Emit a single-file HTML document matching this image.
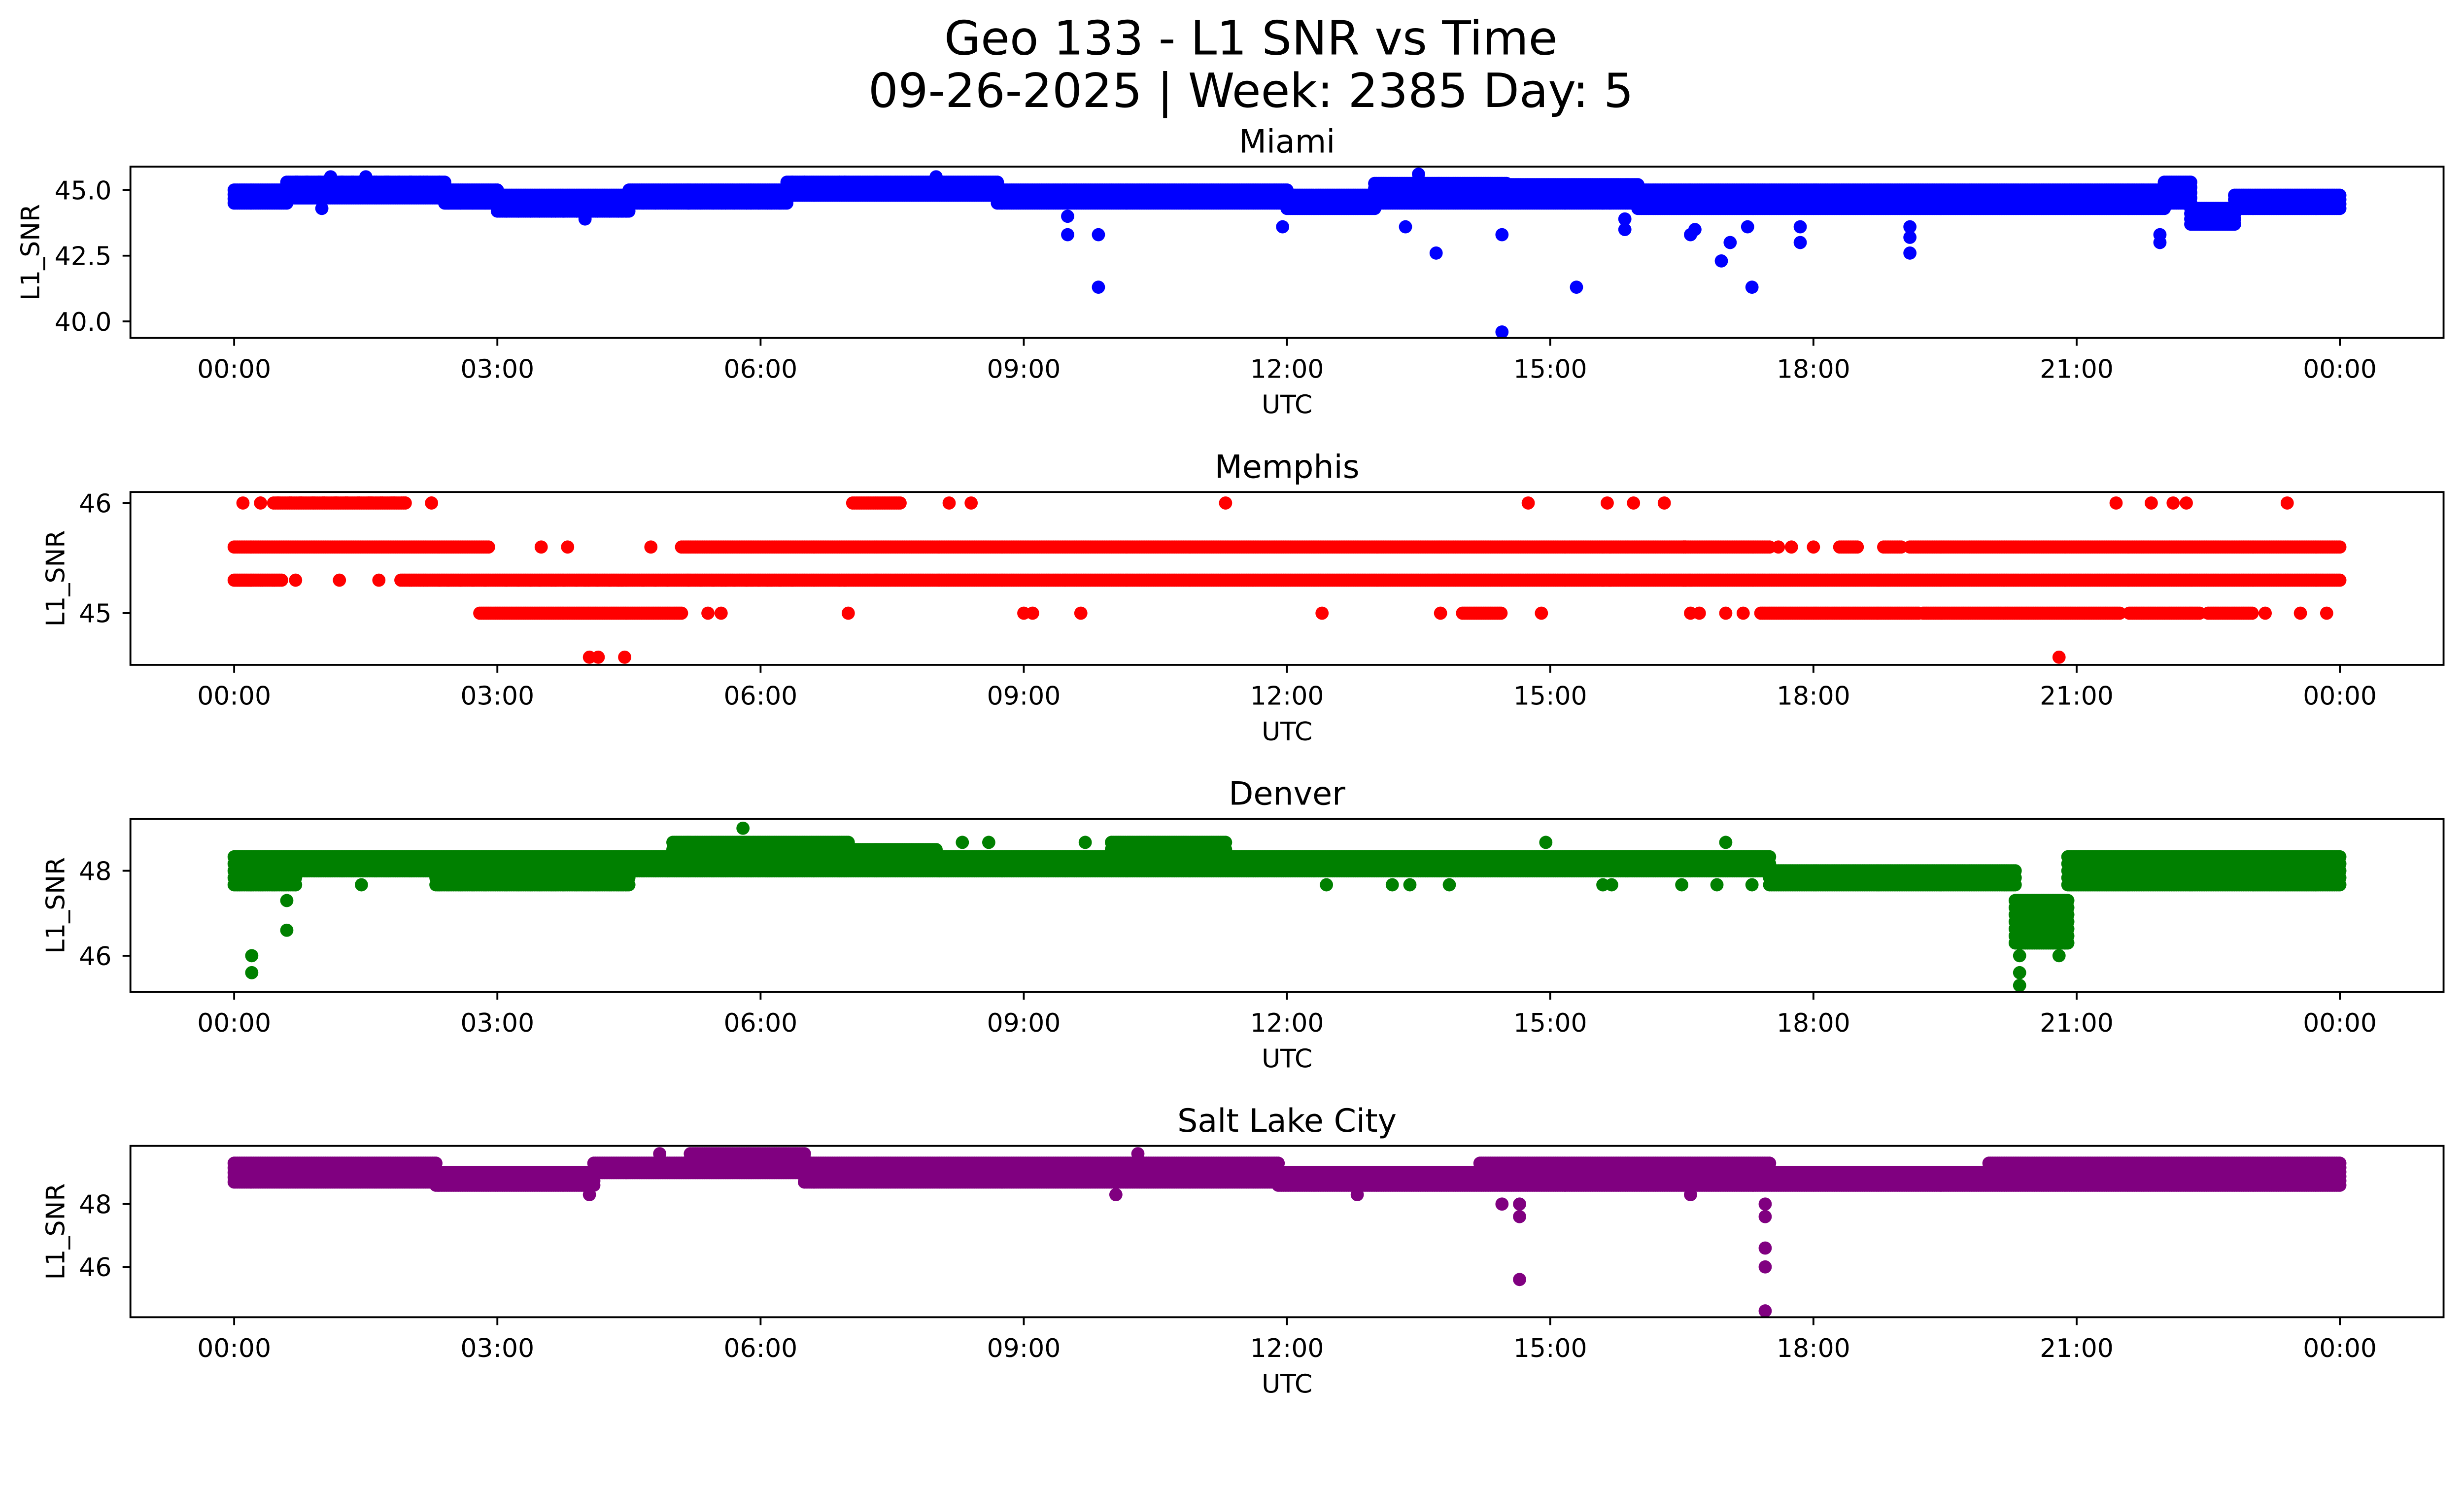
<!DOCTYPE html>
<html><head><meta charset="utf-8"><style>
html,body{margin:0;padding:0;background:#fff;overflow:hidden;}
svg{display:block;width:100vw;height:calc(100vw * 3033 / 5278);font-family:"DejaVu Sans","Liberation Sans",sans-serif;}
</style></head><body>
<svg id="fig" viewBox="0 0 1568 901" preserveAspectRatio="none" xmlns="http://www.w3.org/2000/svg">
<rect width="1568" height="901" fill="#fff"/>
<text x="796" y="34.6" font-size="30" text-anchor="middle">Geo 133 - L1 SNR vs Time</text>
<text x="796" y="68" font-size="30" text-anchor="middle">09-26-2025 | Week: 2385 Day: 5</text>
<g id="panels"></g>
</svg>
<script>
// ---- data (hours UTC, SNR) ----
// bands: [startHour, endHour, lowSNR, highSNR]
const miamiBands=[[0,0.6,44.5,45.0],[0.6,2.4,44.7,45.3],[2.4,3.0,44.5,45.0],[3.0,4.5,44.2,44.8],[4.5,6.3,44.5,45.0],[6.3,8.7,44.8,45.3],[8.7,12.0,44.5,45.0],[12.0,13.0,44.3,44.8],[13.0,14.5,44.5,45.25],[14.5,16.0,44.5,45.2],[16.0,22.0,44.3,45.0],[22.0,22.3,44.5,45.3],[22.3,22.8,43.7,44.3],[22.8,24.0,44.3,44.8]];
const miamiOutT=[1.0,1.1,1.5,8.0,9.5,9.5,9.85,9.85,4.0,11.95,13.35,13.7,14.45,14.45,15.3,15.85,15.85,16.6,16.65,16.95,17.05,17.3,17.25,17.85,17.85,19.1,19.1,19.1,21.95,21.95,13.5];
const miamiOutV=[44.3,45.5,45.5,45.5,43.3,44.0,43.3,41.3,43.9,43.6,43.6,42.6,43.3,39.6,41.3,43.5,43.9,43.3,43.5,42.3,43.0,41.3,43.6,43.0,43.6,42.6,43.2,43.6,43.0,43.3,45.6];

const memphisBands=[[0.45,1.95,46,46],[7.05,7.6,46,46],[0,2.9,45.6,45.6],[5.1,17.5,45.6,45.6],[18.3,18.5,45.6,45.6],[18.8,19.0,45.6,45.6],[19.1,24,45.6,45.6],[0,0.55,45.3,45.3],[1.9,24,45.3,45.3],[2.8,5.1,45,45],[14.0,14.45,45,45],[17.4,19.2,45,45],[19.25,21.5,45,45],[21.6,22.4,45,45],[22.5,23.0,45,45]];
const memphisOutT=[0.1,0.3,2.25,8.15,8.4,11.3,14.75,15.65,15.95,16.3,21.45,21.85,22.1,22.25,23.4,3.5,3.8,4.75,17.6,17.75,18.0,0.7,1.2,1.65,5.4,5.55,7.0,9.0,9.1,9.65,12.4,13.75,14.9,16.6,16.7,17.0,17.2,23.15,23.55,23.85,4.05,4.15,4.45,20.8];
const memphisOutV=[46,46,46,46,46,46,46,46,46,46,46,46,46,46,46,45.6,45.6,45.6,45.6,45.6,45.6,45.3,45.3,45.3,45,45,45,45,45,45,45,45,45,45,45,45,45,45,45,45,44.6,44.6,44.6,44.6];

const denverBands=[[0,0.7,47.67,48.33],[0.7,2.3,48,48.33],[2.3,4.5,47.67,48.33],[4.5,5.0,48,48.33],[5.0,7.0,48,48.67],[7.0,8.0,48,48.5],[8.0,10.0,48,48.33],[10.0,11.3,48,48.67],[11.3,17.5,48,48.33],[17.5,20.3,47.67,48.0],[20.3,20.9,46.3,47.3],[20.9,24,47.67,48.33]];
const denverOutT=[0.2,0.2,0.6,0.6,1.45,5.8,8.3,8.6,9.7,12.45,13.2,13.4,13.85,15.6,15.7,16.5,16.9,17.3,20.35,20.35,20.35,20.8,14.95,17.0];
const denverOutV=[46.0,45.6,46.6,47.3,47.67,49.0,48.67,48.67,48.67,47.67,47.67,47.67,47.67,47.67,47.67,47.67,47.67,47.67,46.0,45.6,45.3,46.0,48.67,48.67];

const slcBands=[[0,2.3,48.7,49.3],[2.3,4.1,48.6,49.0],[4.1,5.2,49.0,49.3],[5.2,6.5,49.0,49.6],[6.5,10.3,48.7,49.3],[10.3,11.9,48.7,49.3],[11.9,14.2,48.6,49.0],[14.2,17.5,48.6,49.3],[17.5,20.0,48.6,49.0],[20.0,24,48.6,49.3]];
const slcOutT=[14.45,14.65,14.65,14.65,17.45,17.45,17.45,17.45,17.45,4.05,10.05,12.8,16.6,4.85,10.3];
const slcOutV=[48.0,48.0,47.6,45.6,47.6,48.0,46.6,46.0,44.6,48.3,48.3,48.3,48.3,49.6,49.6];

const xTickLabels=["00:00","03:00","06:00","09:00","12:00","15:00","18:00","21:00","00:00"];
const miamiYTicks=[40.0,42.5,45.0], miamiYLabels=["40.0","42.5","45.0"];
const memphisYTicks=[45,46], denverYTicks=[46,48], slcYTicks=[46,48];

const panels=[
 {name:"miami",title:"Miami",color:"#0000ff",top:106,bot:215,ymin:39.37,ymax:45.89,bands:miamiBands,ot:miamiOutT,ov:miamiOutV,yt:miamiYTicks,yl:miamiYLabels,step:0.2,ylx:25},
 {name:"memphis",title:"Memphis",color:"#ff0000",top:313,bot:423,ymin:44.53,ymax:46.1,bands:memphisBands,ot:memphisOutT,ov:memphisOutV,yt:memphisYTicks,yl:["45","46"],step:0.1,ylx:41},
 {name:"denver",title:"Denver",color:"#008000",top:521,bot:631,ymin:45.15,ymax:49.22,bands:denverBands,ot:denverOutT,ov:denverOutV,yt:denverYTicks,yl:["46","48"],step:0.17,ylx:41},
 {name:"salt-lake-city",title:"Salt Lake City",color:"#800080",top:729,bot:838,ymin:44.4,ymax:49.85,bands:slcBands,ot:slcOutT,ov:slcOutV,yt:slcYTicks,yl:["46","48"],step:0.15,ylx:41}
];
const NS="http://www.w3.org/2000/svg";
const L=83,R=1555,X0=149,X1=1489;
const xs=h=>X0+(X1-X0)*h/24;
function mk(tag,attrs,parent){const e=document.createElementNS(NS,tag);for(const k in attrs)e.setAttribute(k,attrs[k]);parent.appendChild(e);return e;}
const root=document.getElementById('panels');
panels.forEach(p=>{
 const ys=v=>p.bot-(v-p.ymin)/(p.ymax-p.ymin)*(p.bot-p.top);
 const g=mk('g',{},root);
 
 
 const t=mk('text',{x:(L+R)/2,y:p.top-9,'font-size':20.4,'text-anchor':'middle'},g);
 t.textContent=p.title;
 
 
 const pts=mk('g',{fill:p.color},g);
 
 
 let d="";
 const r=4.2;
 const dot=(h,v)=>{const cx=xs(h),cy=ys(v);d+=`M${(cx-r).toFixed(1)} ${cy.toFixed(1)}a${r} ${r} 0 1 0 ${2*r} 0a${r} ${r} 0 1 0 ${-2*r} 0`;};
 p.bands.forEach(b=>{
  const n=Math.max(1,Math.round((b[3]-b[2])/p.step));
  for(let h=b[0];h<=b[1]+1e-9;h+=0.02){
   for(let k=0;k<=n;k++){dot(h,b[2]+(b[3]-b[2])*k/n);}
  }
 });
 p.ot.forEach((h,i)=>dot(h,p.ov[i]));
 const path=mk('path',{d:d},pts);
 
 
 const fr=mk('rect',{x:L,y:p.top,width:R-L,height:p.bot-p.top,fill:'none',stroke:'#000','stroke-width':1.2},g);
 
 
 p.yt.forEach((v,i)=>{
  const y=ys(v);
  mk('line',{x1:L-5,x2:L,y1:y,y2:y,stroke:'#000','stroke-width':1.2},g);
  const tl=mk('text',{x:L-12,y:y+5.9,'font-size':16.3,'text-anchor':'end'},g);
  tl.textContent=p.yl[i];
  
  
 });
 xTickLabels.forEach((lab,i)=>{
  const x=xs(i*3);
  mk('line',{x1:x,x2:x,y1:p.bot,y2:p.bot+5,stroke:'#000','stroke-width':1.2},g);
  const tl=mk('text',{x:x,y:p.bot+25.3,'font-size':16.3,'text-anchor':'middle'},g);
  tl.textContent=lab;
  
  
 });
 const xl=mk('text',{x:(L+R)/2,y:p.bot+48,'font-size':16.3,'text-anchor':'middle'},g);
 xl.textContent="UTC";
 
 
 const cy=(p.top+p.bot)/2;
 const yl=mk('text',{x:p.ylx,y:cy,'font-size':16.3,'text-anchor':'middle',transform:`rotate(-90 ${p.ylx} ${cy})`},g);
 yl.textContent="L1_SNR";
 
 
});
</script>
</body></html>
